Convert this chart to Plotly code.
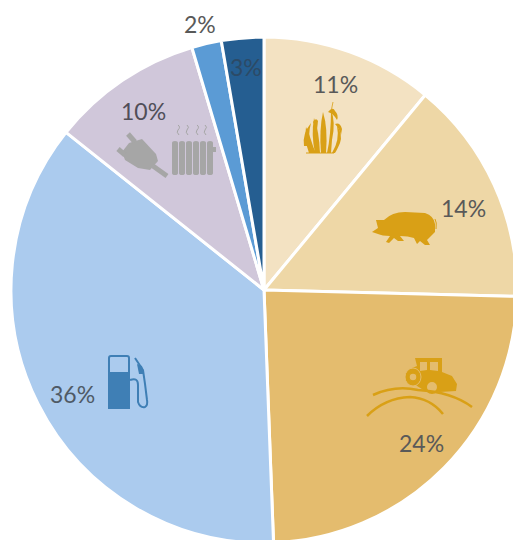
import re
import plotly.graph_objects as go

W, H = 517, 544

categories = ["Crops", "Livestock", "Machinery", "Transport fuel", "Power and heat", "Other A", "Other B"]
values = [11.0, 14.4, 24.0, 36.3, 9.7, 1.9, 2.7]
labels = ["11%", "14%", "24%", "36%", "10%", "2%", "3%"]
colors = ["#F3E2C2", "#EED7A6", "#E4BC6E", "#ABCBEE", "#D0C7DA", "#5B9BD5", "#255E91"]

label_xy = [(335, 84), (463, 208), (421, 443), (72, 394), (143, 111), (200, 24), (246, 67)]
label_colors = ["#595959", "#595959", "#595959", "#4F5A66", "#504E58", "#595959", "#2C4A66"]

GOLD = "#D9A016"
TAN = "#E4BC6E"
BLUE = "#3F7FB5"
GREY = "#A6A6A6"


def P(path):
    """Convert a path written in picture pixels to paper coordinates."""
    parts = re.findall(r"[A-Za-z]|-?\d+\.?\d*", path)
    out, is_x = [], True
    for p in parts:
        if p.isalpha():
            out.append(p)
            is_x = True
        else:
            v = float(p)
            out.append(f"{v / W:.5f}," if is_x else f"{1 - v / H:.5f}")
            is_x = not is_x
    return " ".join(out).replace(", ", ",")


def fill(path, color):
    return dict(type="path", xref="paper", yref="paper", path=P(path), fillcolor=color,
                line=dict(width=0), layer="above")


def stroke(path, color, width):
    return dict(type="path", xref="paper", yref="paper", path=P(path), fillcolor="rgba(0,0,0,0)",
                line=dict(color=color, width=width), layer="above")


def disc(x0, x1, y0, y1, face, edge=None, width=0):
    return dict(type="circle", xref="paper", yref="paper", x0=x0 / W, x1=x1 / W, y0=1 - y1 / H, y1=1 - y0 / H,
                fillcolor=face, line=dict(color=edge or face, width=width), layer="above")


shapes = []
# crop
for p in [
    "M309 153 Q304 140 306 127 Q309 133 311 140 Q313 147 316 153 Z",
    "M315 153 Q311 135 314 118 Q319 130 320 153 Z",
    "M321 153 Q319 130 323 112 Q328 128 326 153 Z",
    "M327 153 Q331 135 331 110 Q336 122 332 140 L331 153 Z",
    "M332 153 Q340 140 337 126 Q343 134 340 143 Q337 150 335 153 Z",
    "M304 146 Q302 134 311 123 Q308 134 310 146 Z",
    "M328 112 Q333 106 335 111 Q339 115 337 120 Q333 113 328 112 Z",
    "M335 124 Q340 122 342 129 L341 135 Q339 128 335 124 Z",
    "M313 122 Q316 117 318 121 L317 130 Z",
]:
    shapes.append(fill(p, GOLD))
shapes.append(stroke("M331 112 L333 102", GOLD, 0.8))
shapes.append(stroke("M306 153 L334 153", GOLD, 1))

# pig
shapes.append(fill(
    "M372 232 L378 228 L376 220 L384 220 Q392 212 405 212 L425 213 Q434 216 435 224 L435 232 "
    "L431 236 L427 240 L430 245 L425 245 L420 241 L417 244 L414 238 Q408 236 400 236 "
    "L404 241 L398 241 L394 238 L389 243 L386 242 L390 236 Q382 236 378 234 Z", GOLD))
shapes.append(stroke("M435 219 Q437 222 436 229", GOLD, 1))

# tractor and hills
shapes.append(fill("M415 358 L442 358 L442 372 L452 376 L457 384 L456 391 L440 392 L425 391 L414 384 L412 368 L417 366 Z", GOLD))
shapes.append(fill("M420 362 L427 362 L427 370 L420 371 Z", TAN))
shapes.append(fill("M430 362 L438 362 L438 371 L430 370 Z", TAN))
shapes.append(disc(405, 421, 368, 386, GOLD, TAN, 1))
shapes.append(disc(409, 417, 373, 381, TAN, GOLD, 1.5))
shapes.append(disc(426, 438, 381, 393, TAN, GOLD, 2))
shapes.append(stroke("M373 395 Q395 385 418 390 Q452 392 472 407", GOLD, 2.5))
shapes.append(stroke("M367 416 Q385 398 410 397 Q430 398 443 414", GOLD, 2.5))

# fuel pump
shapes.append(stroke("M109 372 L109 358 Q109 356 111 356 L127 356 Q129 356 129 358 L129 372", BLUE, 2))
shapes.append(fill("M108 372 L130 372 L130 409 L108 409 Z", BLUE))
shapes.append(stroke("M130 380 Q138 377 138 385 L138 402 Q140 408 145 407 Q148 405 147 400 L145 384 L143 370 L135 358", BLUE, 2))
shapes.append(fill("M137 364 L142 366 L144 374 L139 374 Z", BLUE))

# plug
shapes.append(fill("M129 143 L142 139 L156 154 L158 161 L150 170 L138 168 L125 160 L122 152 Z", GREY))
shapes.append(stroke("M135 142 L128 134", GREY, 5))
shapes.append(stroke("M125 155 L118 149", GREY, 5))
shapes.append(stroke("M153 166 L167 176", GREY, 5))

# radiator
for rad_x in [172, 179, 186, 193, 200, 207]:
    shapes.append(fill(f"M{rad_x} 143 Q{rad_x} 141 {rad_x + 3} 141 Q{rad_x + 6} 141 {rad_x + 6} 143 "
                       f"L{rad_x + 6} 173 Q{rad_x + 6} 175 {rad_x + 3} 175 Q{rad_x} 175 {rad_x} 173 Z", GREY))
shapes.append(fill("M212 147 L216 147 L216 152 L212 152 Z", GREY))
for wave_x in [178, 187, 197, 205]:
    shapes.append(stroke(f"M{wave_x} 125 Q{wave_x + 3} 127 {wave_x} 130 Q{wave_x - 2} 132 {wave_x + 1} 135", GREY, 1))

annotations = [
    dict(x=x / W, y=1 - y / H, xref="paper", yref="paper", text=t, showarrow=False,
         font=dict(family="Lato", size=23, color=c), xanchor="center", yanchor="middle")
    for t, (x, y), c in zip(labels, label_xy, label_colors)
]

# centre (264, 290), radius about 253 in picture pixels
fig = go.Figure(go.Pie(
    labels=categories,
    values=values,
    sort=False,
    direction="clockwise",
    rotation=0,
    textinfo="none",
    hoverinfo="label+percent",
    showlegend=False,
    marker=dict(colors=colors, line=dict(color="white", width=3)),
    domain=dict(x=[11 / W, 517 / W], y=[1 - 543 / H, 1 - 37 / H]),
))
fig.update_layout(
    width=W, height=H,
    margin=dict(l=0, r=0, t=0, b=0),
    paper_bgcolor="white",
    plot_bgcolor="white",
    shapes=shapes,
    annotations=annotations,
)
fig.write_html(
    "out.html",
    config=dict(displayModeBar=False),
    post_script="document.body.style.margin='0';document.documentElement.style.overflow='hidden';document.body.style.overflow='hidden';",
)
